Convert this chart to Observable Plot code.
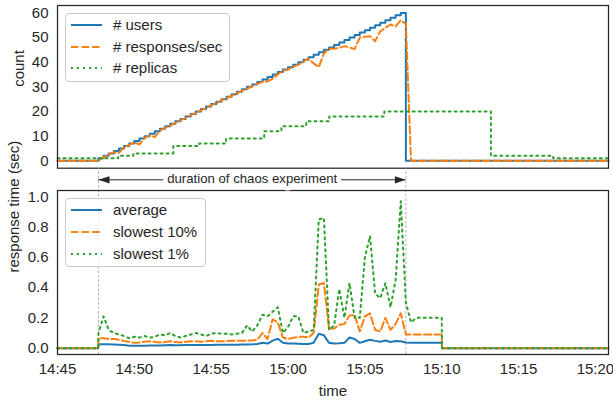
<!DOCTYPE html>
<html><head><meta charset="utf-8">
<script src="https://cdn.jsdelivr.net/npm/d3@7"></script>
<script src="https://cdn.jsdelivr.net/npm/@observablehq/plot@0.6"></script>
<style>
html,body{margin:0;padding:0;background:#fff;}
#chart{position:relative;width:613px;height:403px;font-family:"Liberation Sans",Arial,sans-serif;color:#262626;overflow:hidden;}
#chart > svg{position:absolute;left:0;top:0;}
.legend{position:absolute;box-sizing:border-box;border:1px solid #cccccc;border-radius:4px;background:rgba(255,255,255,0.8);z-index:5;}
.legend .lab{position:absolute;height:18px;line-height:18px;font-size:15px;white-space:nowrap;color:#262626;}
.legend .sw{position:absolute;overflow:visible;}
</style></head><body><div id="chart"></div>
<script>
// ---------------- data ----------------
const day = "2020-01-01";
const tStart = "14:45:00", tEnd = "15:20:51";
const chaosStart = "14:47:40", chaosEnd = "15:07:40";
const sampleStart = "14:47:40";      // first sample of the load test
const sampleStepSec = 20;            // sampling interval (s)
const timeTicks = ["14:45","14:50","14:55","15:00","15:05","15:10","15:15","15:20"];
const countTicks = [0, 10, 20, 30, 40, 50, 60];
const rtTicks = [0, 0.2, 0.4, 0.6, 0.8, 1.0];

// top panel
const users = [1,2,3,4,5,6,7,8,9,10,11,12,13,14,15,16,17,18,19,20,21,22,23,24,25,26,27,28,29,30,
  31,32,33,34,35,36,37,38,39,40,41,42,43,44,45,46,47,48,49,50,51,52,53,54,55,56,57,58,59,60,0];
const responses = [0,1.5,2.5,3.5,3.2,5.5,6.5,7.5,6.6,9.2,10.3,9.6,12.3,13.4,14.3,15.4,16.4,17.4,18.5,19.4,
  20.5,21.4,22.5,23.4,24.5,25.4,26.4,27.3,28.4,29.2,30.3,31.2,32.0,32.2,33.3,35.0,36.5,37.0,38.2,39.0,
  40.2,41.5,39.5,38.0,43.5,45.5,45.5,45.8,46.5,46.0,45.3,50.0,50.3,50.5,48.5,52.5,54.0,55.3,54.5,57.0,55.5,0];
const replicaTimes = ["14:45:00","14:48:57","14:49:56","14:52:32","14:54:13","14:55:58","14:58:27",
  "14:59:34","15:01:11","15:02:41","15:06:16","15:13:12","15:17:15"];
const replicaCounts = [1,2,3,6,7,9,12,14,16,18,20,2,1];

// bottom panel (seconds), one value per sample
const rtAverage = [0.025,0.026,0.025,0.024,0.022,0.02,0.016,0.015,0.015,0.016,
  0.017,0.017,0.018,0.019,0.02,0.019,0.019,0.02,0.02,0.02,
  0.021,0.021,0.021,0.022,0.022,0.022,0.023,0.023,0.024,0.024,
  0.025,0.027,0.035,0.03,0.05,0.062,0.035,0.03,0.03,0.029,
  0.028,0.028,0.035,0.095,0.085,0.035,0.03,0.032,0.035,0.07,
  0.06,0.035,0.045,0.055,0.048,0.042,0.05,0.04,0.047,0.045,
  0.037,0.035,0.035,0.035,0.035,0.035,0.035,0.035];
const rtSlowest10 = [0.065,0.065,0.06,0.062,0.055,0.048,0.04,0.035,0.038,0.042,
  0.045,0.04,0.038,0.04,0.045,0.04,0.038,0.042,0.045,0.045,
  0.042,0.045,0.048,0.045,0.045,0.047,0.048,0.048,0.048,0.05,
  0.05,0.055,0.1,0.06,0.19,0.17,0.07,0.06,0.068,0.075,
  0.075,0.07,0.1,0.42,0.43,0.13,0.13,0.155,0.16,0.215,
  0.22,0.11,0.21,0.23,0.12,0.11,0.2,0.12,0.16,0.23,
  0.09,0.09,0.09,0.09,0.09,0.09,0.09,0.09];
const rtSlowest1 = [0.1,0.21,0.12,0.1,0.09,0.08,0.065,0.075,0.07,0.08,
  0.07,0.075,0.09,0.085,0.1,0.08,0.07,0.08,0.09,0.1,
  0.09,0.08,0.095,0.1,0.095,0.095,0.09,0.095,0.1,0.15,
  0.11,0.15,0.22,0.21,0.24,0.27,0.1,0.14,0.21,0.21,
  0.1,0.11,0.12,0.85,0.86,0.12,0.15,0.39,0.2,0.43,
  0.2,0.2,0.6,0.74,0.36,0.33,0.43,0.27,0.45,0.97,
  0.3,0.17,0.2,0.2,0.2,0.2,0.2,0.2];

const topLabels = ["# users", "# responses/sec", "# replicas"];
const bottomLabels = ["average", "slowest 10%", "slowest 1%"];
const annotationText = "duration of chaos experiment";

// ---------------- styling ----------------
const C = {blue:"#1f77b4", orange:"#ff7f0e", green:"#2ca02c", ink:"#262626"};
const LW = 2, DASH = "7.4,3.2", DOT = "2,4";
const FONT = '"Liberation Sans", Arial, sans-serif';
const seriesStyle = [
  {stroke: C.blue, dash: null},
  {stroke: C.orange, dash: DASH},
  {stroke: C.green, dash: DOT}
];

const T = s => new Date(`${day}T${s.length === 5 ? s + ":00" : s}Z`);
const SEC = 1000;
const grid = i => new Date(T(sampleStart).getTime() + i * sampleStepSec * SEC);
const xDomain = [T(tStart), T(tEnd)];

const usersRows = [{t: T(tStart), v: 0}, ...users.map((v, i) => ({t: grid(i), v})), {t: T(tEnd), v: 0}];
const respRows = [{t: T(tStart), v: 0}, ...responses.map((v, i) => ({t: grid(i), v})), {t: T(tEnd), v: 0}];
const replRows = [...replicaTimes.map((s, i) => ({t: T(s), v: replicaCounts[i]})),
  {t: T(tEnd), v: replicaCounts[replicaCounts.length - 1]}];
const rtRows = arr => [
  {t: T(tStart), v: 0},
  {t: new Date(grid(0).getTime() - SEC), v: 0},
  ...arr.map((v, i) => ({t: grid(i), v})),
  {t: new Date(grid(arr.length - 1).getTime() + SEC), v: 0},
  {t: T(tEnd), v: 0}
];

const chart = document.getElementById("chart");
const W = 613, ML = 57, MR = 5;

// ---------------- top panel ----------------
const yTop = [-3, 63];
const topPlot = Plot.plot({
  width: W, height: 170, marginLeft: ML, marginRight: MR, marginTop: 5, marginBottom: 2.3,
  style: {background: "transparent", fontFamily: FONT, fontSize: "15px", color: C.ink, overflow: "visible"},
  x: {type: "utc", domain: xDomain, axis: null},
  y: {domain: yTop, ticks: countTicks, tickSize: 0, tickPadding: 9, label: null},
  marks: [
    Plot.line(usersRows, {x: "t", y: "v", stroke: C.blue, strokeWidth: LW, curve: "step-after"}),
    Plot.line(respRows, {x: "t", y: "v", stroke: C.orange, strokeWidth: LW, strokeDasharray: DASH}),
    Plot.line(replRows, {x: "t", y: "v", stroke: C.green, strokeWidth: LW, strokeDasharray: DOT, curve: "step-after"}),
    Plot.frame({stroke: C.ink, strokeWidth: 1.25}),
    Plot.text(["count"], {text: d => d, frameAnchor: "left", rotate: -90, dx: -38.6, lineAnchor: "middle",
      fontSize: 15, fill: C.ink})
  ]
});
chart.appendChild(topPlot);

// ---------------- bottom panel ----------------
const yBot = [-0.042, 1.041];
const MT = 190, MB = 49, H = 403;
const pxPerUnit = (H - MT - MB) / (yBot[1] - yBot[0]);
const yAt = px => yBot[1] - (px - MT) / pxPerUnit;   // value at a pixel row
const arrowY = yAt(179.3), textY = yAt(177.8), dashTop = yAt(167.7);

const headLeft = {draw(ctx) { ctx.moveTo(0, 0); ctx.lineTo(11, -3.6); ctx.lineTo(11, 3.6); ctx.closePath(); }};
const headRight = {draw(ctx) { ctx.moveTo(0, 0); ctx.lineTo(-11, -3.6); ctx.lineTo(-11, 3.6); ctx.closePath(); }};
const cs = T(chaosStart), ce = T(chaosEnd);
const mid = new Date((cs.getTime() + ce.getTime()) / 2);

const botPlot = Plot.plot({
  width: W, height: H, marginLeft: ML, marginRight: MR, marginTop: MT, marginBottom: MB,
  style: {background: "transparent", fontFamily: FONT, fontSize: "15px", color: C.ink, overflow: "visible"},
  x: {type: "utc", domain: xDomain, ticks: timeTicks.map(T), tickFormat: d3.utcFormat("%H:%M"),
      tickSize: 0, tickPadding: 9, label: null},
  y: {domain: yBot, ticks: rtTicks, tickFormat: ".1f", tickSize: 0, tickPadding: 9, label: null},
  marks: [
    Plot.ruleX([{t: cs, y1: yBot[0], y2: dashTop}, {t: ce, y1: yBot[0], y2: dashTop}],
      {x: "t", y1: "y1", y2: "y2", stroke: "#9a9a9a", strokeWidth: 0.8, strokeDasharray: "2.5,2"}),
    Plot.line(rtRows(rtAverage), {x: "t", y: "v", stroke: C.blue, strokeWidth: LW}),
    Plot.line(rtRows(rtSlowest10), {x: "t", y: "v", stroke: C.orange, strokeWidth: LW, strokeDasharray: DASH}),
    Plot.line(rtRows(rtSlowest1), {x: "t", y: "v", stroke: C.green, strokeWidth: LW, strokeDasharray: DOT}),
    Plot.frame({stroke: C.ink, strokeWidth: 1.25}),
    // annotation: double arrow + text
    Plot.ruleY([{y: arrowY, x1: cs, x2: ce}], {y: "y", x1: "x1", x2: "x2", stroke: C.ink, strokeWidth: 1}),
    Plot.dot([{t: cs, y: arrowY}], {x: "t", y: "y", symbol: headLeft, fill: C.ink, stroke: "none"}),
    Plot.dot([{t: ce, y: arrowY}], {x: "t", y: "y", symbol: headRight, fill: C.ink, stroke: "none"}),
    Plot.text([{t: mid, y: textY, s: annotationText}], {x: "t", y: "y", text: "s", fontSize: 13.2,
      fill: C.ink, stroke: "white", strokeWidth: 9, strokeLinejoin: "round", lineAnchor: "middle"}),
    Plot.text(["response time (sec)"], {text: d => d, frameAnchor: "left", rotate: -90, dx: -43.5,
      lineAnchor: "middle", fontSize: 15, fill: C.ink}),
    Plot.text(["time"], {text: d => d, frameAnchor: "bottom", dy: 36.2, lineAnchor: "middle",
      fontSize: 15, fill: C.ink})
  ]
});
chart.appendChild(botPlot);

// ---------------- legends ----------------
const svgNS = "http://www.w3.org/2000/svg";
function legend(labels, box) {
  const div = document.createElement("div");
  div.className = "legend";
  Object.assign(div.style, {left: box.left + "px", top: box.top + "px", width: box.width + "px", height: box.height + "px"});
  labels.forEach((label, k) => {
    const cy = box.firstRow + k * box.rowGap;
    const st = seriesStyle[k];
    const sw = document.createElementNS(svgNS, "svg");
    sw.setAttribute("class", "sw");
    sw.setAttribute("width", 32); sw.setAttribute("height", 6);
    sw.style.left = "4.7px"; sw.style.top = (cy - 3) + "px";
    const ln = document.createElementNS(svgNS, "line");
    ln.setAttribute("x1", 0); ln.setAttribute("x2", 31); ln.setAttribute("y1", 3); ln.setAttribute("y2", 3);
    ln.setAttribute("stroke", st.stroke); ln.setAttribute("stroke-width", LW);
    if (st.dash) ln.setAttribute("stroke-dasharray", st.dash);
    sw.appendChild(ln);
    div.appendChild(sw);
    const lab = document.createElement("div");
    lab.className = "lab";
    lab.textContent = label;
    lab.style.left = "47px"; lab.style.top = (cy - 9) + "px";
    div.appendChild(lab);
  });
  chart.appendChild(div);
}
legend(topLabels, {left: 65, top: 13.3, width: 165, height: 69, firstRow: 10.7, rowGap: 21.7});
legend(bottomLabels, {left: 65, top: 198.3, width: 141, height: 69, firstRow: 10.7, rowGap: 21.8});
</script></body></html>
